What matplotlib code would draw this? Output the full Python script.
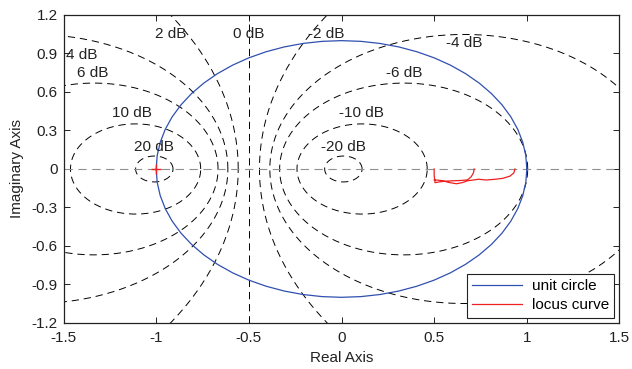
import matplotlib

matplotlib.use("Agg")
import matplotlib.pyplot as plt
import numpy as np

plt.rcParams["font.family"] = ["Liberation Sans", "DejaVu Sans"]

# closed-loop magnitude contours (dB) and where their labels sit
m_levels_db = [20, 10, 6, 4, 2, 0, -2, -4, -6, -10, -20]
m_label_xy = [(-1.01, 0.17), (-1.13, 0.44), (-1.34, 0.75), (-1.40, 0.89),
              (-0.92, 1.05), (-0.50, 1.05), (-0.08, 1.05), (0.66, 0.98),
              (0.34, 0.75), (0.11, 0.44), (0.01, 0.17)]

# measured locus, two traced branches separated by nan
locus_re = [0.500, 0.500, 0.505, 0.530, 0.560, 0.600, 0.640, 0.680, 0.700, 0.712, 0.716,
            np.nan,
            0.500, 0.540, 0.580, 0.620, 0.650, 0.680, 0.740, 0.780, 0.830, 0.870, 0.910, 0.930, 0.936]
locus_im = [0.000, -0.050, -0.107, -0.100, -0.095, -0.092, -0.090, -0.085, -0.060, -0.030, 0.000,
            np.nan,
            -0.085, -0.090, -0.105, -0.115, -0.107, -0.092, -0.080, -0.086, -0.080, -0.073, -0.055, -0.030, 0.000]

n_unit = 60
x_ticks = [-1.5, -1, -0.5, 0, 0.5, 1, 1.5]
y_ticks = [-1.2, -0.9, -0.6, -0.3, 0, 0.3, 0.6, 0.9, 1.2]

FS = 11


def main():
    fig = plt.figure(figsize=(6.32, 3.69), dpi=100)
    ax = fig.add_axes([0.1005, 0.1247, 0.8797, 0.8347])

    dash = (7.5, 5)
    t = np.linspace(0, 2 * np.pi, 721)
    for db, (lx, ly) in zip(m_levels_db, m_label_xy):
        m = 10 ** (db / 20)
        if db == 0:
            ax.plot([-0.5, -0.5], [-1.2, 1.2], color="k", lw=0.7, dashes=dash)
        else:
            c = -m ** 2 / (m ** 2 - 1)
            r = abs(m / (m ** 2 - 1))
            ax.plot(c + r * np.cos(t), r * np.sin(t), color="k", lw=0.7, dashes=dash)
        ax.text(lx, ly, f"{db} dB", fontsize=FS, ha="center", va="center", color="#222222")

    ax.plot([-1.5, 1.5], [0, 0], color="#909090", lw=0.8, dashes=dash)

    th = np.linspace(0, 2 * np.pi, n_unit + 1)
    ax.plot(np.cos(th), np.sin(th), color="#3050b0", lw=0.9, label="unit circle")
    ax.plot(locus_re, locus_im, color="#ee2020", lw=0.9, label="locus curve")
    ax.plot([-1], [0], marker="+", color="#ee2020", ms=7, mew=1.0)

    ax.set_xlim(-1.5, 1.5)
    ax.set_ylim(-1.2, 1.2)
    ax.set_xticks(x_ticks)
    ax.set_yticks(y_ticks)
    ax.set_xticklabels([f"{v:g}" for v in x_ticks])
    ax.set_yticklabels([f"{v:g}" for v in y_ticks])
    ax.tick_params(direction="in", top=True, right=True, length=4, width=0.7,
                   labelsize=FS, colors="#222222")
    ax.tick_params(axis="x", pad=6)
    ax.tick_params(axis="y", pad=4)
    for s in ax.spines.values():
        s.set_linewidth(0.9)
        s.set_color("#222222")
    ax.set_xlabel("Real Axis", fontsize=FS, color="#222222", labelpad=4)
    ax.set_ylabel("Imaginary Axis", fontsize=FS, color="#222222", labelpad=6)

    leg = ax.legend(loc="lower right", fontsize=FS, frameon=True, fancybox=False,
                    framealpha=1, edgecolor="#222222", borderaxespad=0.35,
                    handlelength=3.3, handletextpad=0.6, borderpad=0.35, labelspacing=0.35)
    leg.get_frame().set_linewidth(0.8)

    fig.savefig("out.png", dpi=100)
    plt.close(fig)


if __name__ == "__main__":
    main()
